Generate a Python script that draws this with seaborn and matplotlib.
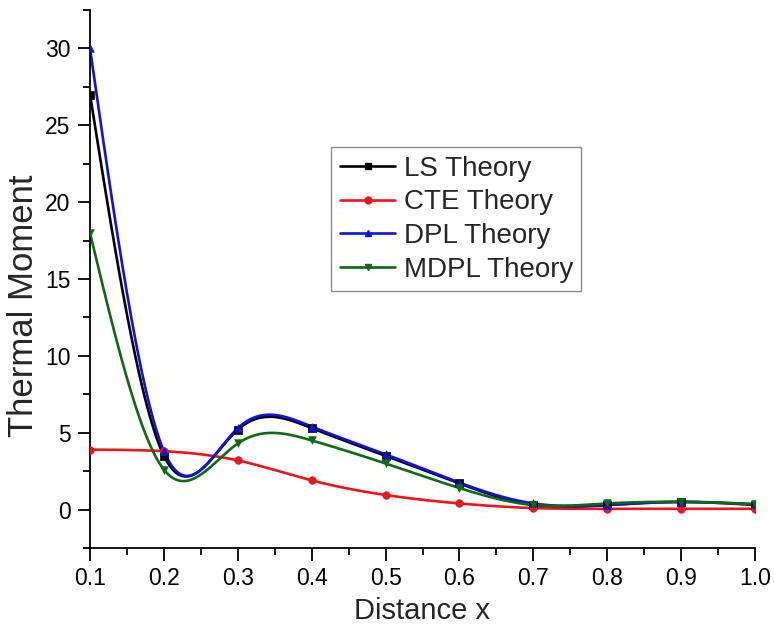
import numpy as np
import pandas as pd
import matplotlib
matplotlib.use("Agg")
import matplotlib.pyplot as plt
from matplotlib.lines import Line2D
from matplotlib.ticker import MultipleLocator
import seaborn as sns

# ---- data ----
x_vals = [0.1, 0.2, 0.3, 0.4, 0.5, 0.6, 0.7, 0.8, 0.9, 1.0]
ls_theory = [27.0, 3.5, 5.2, 5.3, 3.5, 1.7, 0.3, 0.3, 0.5, 0.3]
cte_theory = [3.9, 3.8, 3.2, 1.9, 0.95, 0.4, 0.1, 0.05, 0.05, 0.05]
dpl_theory = [30.0, 3.8, 5.3, 5.4, 3.6, 1.75, 0.4, 0.3, 0.5, 0.35]
mdpl_theory = [18.0, 2.6, 4.3, 4.5, 3.0, 1.4, 0.3, 0.4, 0.5, 0.35]
series_names = ["LS Theory", "CTE Theory", "DPL Theory", "MDPL Theory"]
x_ticks = [0.1, 0.2, 0.3, 0.4, 0.5, 0.6, 0.7, 0.8, 0.9, 1.0]
y_ticks = [0, 5, 10, 15, 20, 25, 30]

colors = ["#000000", "#e8171b", "#1010e0", "#0b6a12"]
markers = ["s", "o", "^", "v"]


def spline_curve(x, y, xs):
    """Natural cubic spline rendering of the connecting line (Origin 'Spline')."""
    x = np.asarray(x, float)
    y = np.asarray(y, float)
    n = len(x)
    h = np.diff(x)
    A = np.zeros((n, n))
    r = np.zeros(n)
    A[0, 0] = 1
    A[-1, -1] = 1
    for i in range(1, n - 1):
        A[i, i - 1] = h[i - 1]
        A[i, i] = 2 * (h[i - 1] + h[i])
        A[i, i + 1] = h[i]
        r[i] = 6 * ((y[i + 1] - y[i]) / h[i] - (y[i] - y[i - 1]) / h[i - 1])
    M = np.linalg.solve(A, r)
    idx = np.clip(np.searchsorted(x, xs) - 1, 0, n - 2)
    x0, x1 = x[idx], x[idx + 1]
    hh = x1 - x0
    a = (x1 - xs) / hh
    b = (xs - x0) / hh
    return (a * y[idx] + b * y[idx + 1]
            + ((a ** 3 - a) * M[idx] + (b ** 3 - b) * M[idx + 1]) * hh ** 2 / 6)


all_series = [ls_theory, cte_theory, dpl_theory, mdpl_theory]

sns.set_theme(style="ticks")
plt.rcParams["font.family"] = ["Liberation Sans", "DejaVu Sans"]

fig = plt.figure(figsize=(7.74, 6.31), dpi=100)
ax = fig.add_axes([0.1163, 0.1315, 0.8592, 0.8527])

xs = np.linspace(x_vals[0], x_vals[-1], 600)
for name, vals, c, m in zip(series_names, all_series, colors, markers):
    curve = pd.DataFrame({"x": xs, "y": spline_curve(x_vals, vals, xs)})
    pts = pd.DataFrame({"x": x_vals, "y": vals})
    sns.lineplot(data=curve, x="x", y="y", ax=ax, color=c, lw=1.9,
                 estimator=None, sort=False, legend=False)
    sns.scatterplot(data=pts, x="x", y="y", ax=ax, color=c, marker=m,
                    s=30, edgecolor=c, linewidth=0.5, legend=False, zorder=3)

ax.set_xlim(0.1, 1.0)
ax.set_ylim(-2.5, 32.5)
ax.set_xticks(x_ticks)
ax.set_xticklabels([f"{t:.1f}" for t in x_ticks])
ax.set_yticks(y_ticks)
ax.xaxis.set_minor_locator(MultipleLocator(0.05))
ax.yaxis.set_minor_locator(MultipleLocator(2.5))
ax.tick_params(axis="both", which="major", length=9, width=1.3,
               labelsize=16.5, direction="out", colors="black", pad=5)
ax.tick_params(axis="both", which="minor", length=5, width=1.3,
               direction="out", colors="black")
for s in ["top", "right"]:
    ax.spines[s].set_visible(False)
for s in ["left", "bottom"]:
    ax.spines[s].set_linewidth(1.3)
    ax.spines[s].set_color("black")

ax.set_xlabel("Distance x", fontsize=21, labelpad=5)
ax.set_ylabel("Thermal Moment", fontsize=25)
ax.yaxis.set_label_coords(-0.075, 0.45)

handles = [Line2D([0, 0.5, 1], [0, 0, 0], color=c, lw=1.9, marker=m,
                  markersize=5, markevery=[1])
           for c, m in zip(colors, markers)]
leg = ax.legend(handles, series_names, loc="upper left",
                bbox_to_anchor=(0.363, 0.745), fontsize=20, frameon=True,
                fancybox=False, edgecolor="#707070", handlelength=2.0,
                handletextpad=0.3, labelspacing=0.28, borderpad=0.3,
                borderaxespad=0)
leg.get_frame().set_linewidth(1.0)

fig.savefig("out.png", dpi=100)
